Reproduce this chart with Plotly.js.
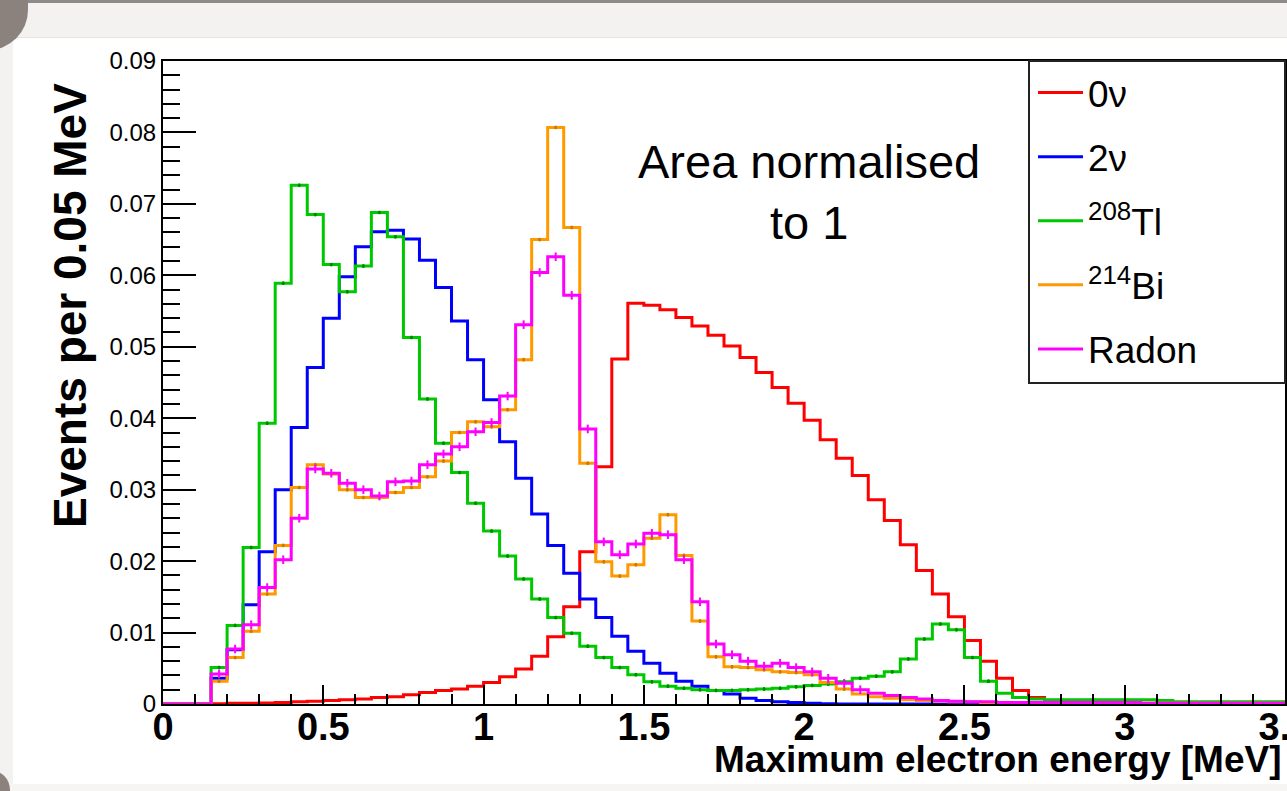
<!DOCTYPE html>
<html>
<head>
<meta charset="utf-8">
<script src="https://cdn.plot.ly/plotly-3.0.1.min.js"></script>
<style>
  html, body { margin: 0; padding: 0; background: #ffffff; }
  body { width: 1287px; height: 791px; position: relative; overflow: hidden; }
  #topline { position: absolute; left: 0; top: 0; width: 1287px; height: 3px; background: #8e8a88; }
  #topband { position: absolute; left: 0; top: 3px; width: 1287px; height: 34px; background: #f3f2f1; border-bottom: 1px solid #e6e4e2; }
  #leftband { position: absolute; left: 0; top: 37px; width: 13px; height: 754px; background: #f3f2f1; }
  #bottomband { position: absolute; left: 0; top: 784px; width: 1287px; height: 7px; background: #f6f5f4; }
  #corner { position: absolute; left: -20px; top: -30px; width: 48px; height: 80px; background: #8c827d; border-radius: 0 0 40px 0; }
  #corner2 { position: absolute; left: -10px; top: 770px; width: 20px; height: 40px; background: #8c827d; border-radius: 0 20px 0 0; }
  #chart { position: absolute; left: 0; top: 0; width: 1287px; height: 791px; }
</style>
</head>
<body>
<div id="topline"></div>
<div id="topband"></div>
<div id="leftband"></div>
<div id="bottomband"></div>
<div id="corner"></div>
<div id="corner2"></div>
<div id="chart"></div>
<script>
// Histogram binning: 70 bins of 0.05 MeV from 0 to 3.5 MeV
const binWidth = 0.05;
const nBins = 70;

// 0νββ signal
const zeroNu = [0,0,0,0.00005,0.0001,0.0001,0.00015,0.0002,0.0003,0.0004,
  0.0005,0.0006,0.0007,0.0009,0.0010,0.0013,0.0016,0.0019,0.0021,0.0025,
  0.0030,0.0038,0.0049,0.0067,0.0094,0.0136,0.0213,0.0332,0.0483,0.0561,
  0.0558,0.0552,0.0541,0.0529,0.0516,0.0501,0.0485,0.0464,0.0443,0.0421,
  0.0397,0.0370,0.0344,0.0320,0.0286,0.0257,0.0223,0.0187,0.0154,0.0122,
  0.0089,0.0060,0.0036,0.0019,0.0009,0.0004,0.0002,0.0001,0,0,
  0,0,0,0,0,0,0,0,0,0];

// 2νββ
const twoNu = [0,0,0,0.0036,0.0076,0.0139,0.0213,0.0300,0.0387,0.0471,
  0.0540,0.0598,0.0640,0.0661,0.0663,0.0651,0.0621,0.0583,0.0536,0.0482,
  0.0426,0.0367,0.0316,0.0266,0.0222,0.0183,0.0147,0.0121,0.0095,0.0074,
  0.0057,0.0043,0.0032,0.0025,0.0019,0.0014,0.0008,0.0005,0.0003,0.0002,
  0.0001,0.00005,0,0,0,0,0,0,0,0,
  0,0,0,0,0,0,0,0,0,0,
  0,0,0,0,0,0,0,0,0,0];

// 208Tl
const tl208 = [0,0,0,0.0051,0.0110,0.0219,0.0393,0.0589,0.0726,0.0685,
  0.0615,0.0577,0.0613,0.0688,0.0654,0.0513,0.0427,0.0365,0.0324,0.0281,
  0.0242,0.0207,0.0175,0.0147,0.0121,0.0099,0.0081,0.0065,0.0051,0.0041,
  0.0031,0.0025,0.0022,0.0020,0.0019,0.0019,0.0020,0.0021,0.0022,0.0024,
  0.0026,0.0028,0.0031,0.0036,0.0039,0.0045,0.0063,0.0091,0.0112,0.0104,
  0.0065,0.0032,0.0015,0.0009,0.0007,0.0006,0.0006,0.0006,0.0006,0.0006,
  0.0006,0.0006,0.0005,0.0003,0.0003,0.0003,0.0003,0.0003,0.0003,0.0003];

// 214Bi
const bi214 = [0,0,0,0.0032,0.0065,0.0102,0.0154,0.0222,0.0303,0.0335,
  0.0322,0.0300,0.0289,0.0289,0.0296,0.0303,0.0318,0.0340,0.0380,0.0395,
  0.0388,0.0412,0.0482,0.0650,0.0807,0.0667,0.0337,0.0199,0.0179,0.0195,
  0.0232,0.0265,0.0208,0.0116,0.0066,0.0052,0.0051,0.0048,0.0045,0.0044,
  0.0041,0.0030,0.0021,0.0014,0.0010,0.0008,0.0006,0.0005,0.0004,0.0003,
  0.0003,0.0002,0.0002,0.0002,0.0002,0.0002,0.0002,0.0001,0.0001,0.0001,
  0.0001,0.0001,0.0001,0.0001,0.0001,0.0001,0.0001,0.0001,0.0001,0.0001];

// Radon
const radon = [0,0,0,0.0042,0.0077,0.0111,0.0163,0.0202,0.0260,0.0329,
  0.0323,0.0309,0.0300,0.0291,0.0311,0.0312,0.0335,0.0350,0.0360,0.0381,
  0.0394,0.0431,0.0531,0.0604,0.0626,0.0572,0.0385,0.0227,0.0209,0.0224,
  0.0239,0.0237,0.0202,0.0143,0.0084,0.0069,0.0060,0.0053,0.0057,0.0051,
  0.0045,0.0036,0.0029,0.0020,0.0015,0.0012,0.0009,0.0007,0.0005,0.0004,
  0.0003,0.0003,0.0002,0.0002,0.0002,0.0002,0.0002,0.0002,0.0002,0.0002,
  0.0002,0.0001,0.0001,0.0001,0.0001,0.0001,0.0001,0.0001,0.0001,0.0001];

const seriesNames = ['0\u03bd', '2\u03bd', '<sup>208</sup>Tl', '<sup>214</sup>Bi', 'Radon'];
const seriesValues = [zeroNu, twoNu, tl208, bi214, radon];
const seriesColors = ['#ff0000', '#0000ff', '#00c800', '#ff9900', '#ff00ff'];

const xTickVals = [0, 0.5, 1, 1.5, 2, 2.5, 3, 3.5];
const yTickVals = [0, 0.01, 0.02, 0.03, 0.04, 0.05, 0.06, 0.07, 0.08, 0.09];

const edges = [];
for (let i = 0; i <= nBins; i++) edges.push(+(i * binWidth).toFixed(2));
const centers = [];
for (let i = 0; i < nBins; i++) centers.push(+((i + 0.5) * binWidth).toFixed(3));

const traces = [];
seriesValues.forEach((vals, k) => {
  traces.push({
    type: 'scatter', mode: 'lines',
    x: edges, y: vals.concat([vals[vals.length - 1]]),
    line: { shape: 'hv', width: 3, color: seriesColors[k] },
    name: seriesNames[k], legendgroup: 'g' + k,
    hoverinfo: 'skip'
  });
});

// small statistical error ticks (drawn on Tl, Bi and Radon histograms)
const errSpec = [[2, 0.00025, '#008800'], [3, 0.00025, '#cc7a00'], [4, 0.0006, '#ff00ff']];
errSpec.forEach(([k, e, c]) => {
  const vals = seriesValues[k];
  const xs = [], ys = [], es = [];
  vals.forEach((v, i) => { if (v > 0.0015) { xs.push(centers[i]); ys.push(v); es.push(e); } });
  traces.push({
    type: 'scatter', mode: 'markers', x: xs, y: ys,
    marker: { size: 3, color: c },
    error_y: { type: 'data', array: es, visible: true, thickness: 2, width: 0, color: c },
    showlegend: false, hoverinfo: 'skip'
  });
});

const L = 163, T = 61, W = 1122, H = 643;
function px2x(p) { return (p - L) / W; }
function px2y(p) { return (T + H - p) / H; }

const layout = {
  width: 1287, height: 791,
  margin: { l: L, r: 1287 - L - W, t: T, b: 791 - T - H, pad: 0 },
  paper_bgcolor: 'rgba(0,0,0,0)', plot_bgcolor: '#ffffff',
  font: { family: 'Liberation Sans, Arial, Helvetica, sans-serif', color: '#000000' },
  showlegend: true,
  legend: {
    x: px2x(1033), y: px2y(62), xanchor: 'left', yanchor: 'top',
    bgcolor: 'rgba(0,0,0,0)', borderwidth: 0,
    font: { size: 37, color: '#000000' },
    tracegroupgap: 13, itemwidth: 45
  },
  xaxis: {
    range: [0, 3.5], tickvals: xTickVals, ticktext: xTickVals.map(String),
    ticks: 'inside', ticklen: 19, tickwidth: 2, tickcolor: '#000000',
    minor: { dtick: 0.1, tick0: 0, ticks: 'inside', ticklen: 10, tickwidth: 2, tickcolor: '#000000', showgrid: false },
    showline: true, linewidth: 2, linecolor: '#000000', mirror: true,
    showgrid: false, zeroline: false,
    ticklabeloverflow: 'allow', ticklabelstandoff: -12,
    tickfont: { size: 38, weight: 'bold', color: '#000000' }
  },
  yaxis: {
    range: [0, 0.09], tickvals: yTickVals, ticktext: yTickVals.map(String),
    ticks: 'inside', ticklen: 33, tickwidth: 2, tickcolor: '#000000',
    minor: { dtick: 0.002, tick0: 0, ticks: 'inside', ticklen: 17, tickwidth: 2, tickcolor: '#000000', showgrid: false },
    showline: true, linewidth: 2, linecolor: '#000000', mirror: true,
    showgrid: false, zeroline: false,
    tickfont: { size: 24, color: '#000000' }
  },
  shapes: [{
    type: 'rect', xref: 'paper', yref: 'paper',
    x0: px2x(1029), x1: px2x(1285), y0: px2y(383), y1: px2y(61),
    line: { color: '#222222', width: 2 }, fillcolor: '#ffffff', layer: 'above'
  }],
  annotations: [
    { text: 'Area normalised<br>to 1', xref: 'paper', yref: 'paper',
      x: px2x(809), y: px2y(192), xanchor: 'center', yanchor: 'middle',
      showarrow: false, font: { size: 47, color: '#000000' }, align: 'center' },
    { text: 'Maximum electron energy [MeV]', xref: 'paper', yref: 'paper',
      x: px2x(1283), y: px2y(760), xanchor: 'right', yanchor: 'middle',
      showarrow: false, font: { size: 37, weight: 'bold', color: '#000000' } },
    { text: 'Events per 0.05 MeV', xref: 'paper', yref: 'paper',
      x: px2x(70), y: px2y(306), xanchor: 'center', yanchor: 'middle', textangle: -90,
      showarrow: false, font: { size: 46, weight: 'bold', color: '#000000' } }
  ]
};

Plotly.newPlot('chart', traces, layout, { displayModeBar: false, staticPlot: true });
</script>
</body>
</html>
